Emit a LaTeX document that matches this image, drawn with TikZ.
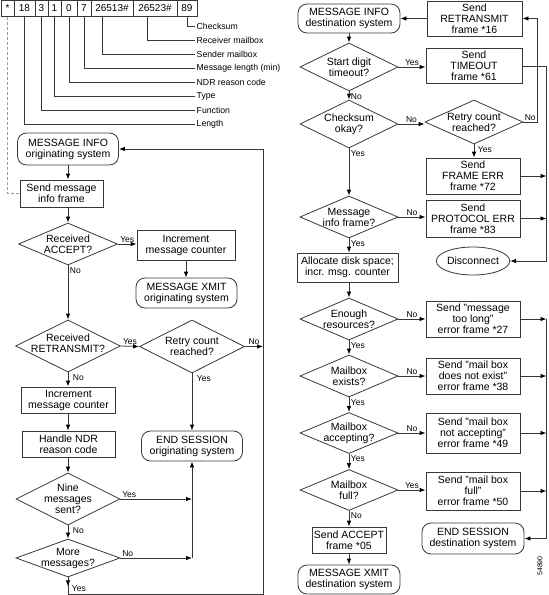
\documentclass[tikz,border=0pt]{standalone}
\usepackage{fontspec}
\setmainfont{Liberation Sans}
\usetikzlibrary{arrows.meta,shapes.geometric,calc}
\colorlet{ln}{black!78}
\newcommand{\mydia}[5]{%
  \node[dia,minimum width=#3,minimum height=#4] (#1) at #2 {};
  \node[dtxt] (#1t) at (#1) {#5};}
\begin{document}
\begin{tikzpicture}[x=1pt,y=-1pt,
  base/.style={font=\fontsize{10.5}{11}\selectfont, align=center, inner sep=0pt, text=black},
  box/.style={base, draw=ln, line width=0.8pt, rectangle},
  rbox/.style={box, rounded corners=9pt},
  dia/.style={draw=ln, line width=0.8pt, diamond, inner sep=0pt},
  dtxt/.style={base},
  cell/.style={draw=ln, line width=0.8pt, rectangle, inner sep=0pt, minimum height=16pt, font=\fontsize{10}{11}\selectfont},
  hl/.style={font=\fontsize{8.7}{10}\selectfont, inner sep=1.5pt, anchor=west},
  lbl/.style={font=\fontsize{8.5}{9}\selectfont, inner sep=1.5pt, text=black},
  conn/.style={draw=ln, line width=0.8pt},
  arr/.style={conn, -{Latex[length=6pt,width=4.5pt,black]}},
  grey dash/.style={draw=black!40, line width=0.8pt, dash pattern=on 3pt off 2pt}
]
\useasboundingbox (0,0) rectangle (549,595);

% header record
\node[cell, minimum width=13pt] (c0) at (7.5,8.5) {*};
\node[cell, minimum width=21pt] (c1) at (24.5,8.5) {18};
\node[cell, minimum width=13pt] (c2) at (41.5,8.5) {3};
\node[cell, minimum width=13pt] (c3) at (54.5,8.5) {1};
\node[cell, minimum width=16pt] (c4) at (69,8.5) {0};
\node[cell, minimum width=14pt] (c5) at (84,8.5) {7};
\node[cell, minimum width=42pt] (c6) at (112,8.5) {26513\#};
\node[cell, minimum width=44pt] (c7) at (155,8.5) {26523\#};
\node[cell, minimum width=20pt] (c8) at (187,8.5) {89};

\node[hl] (lChk) at (195,26) {Checksum};
\node[hl] (lRcv) at (195,40) {Receiver mailbox};
\node[hl] (lSnd) at (195,54) {Sender mailbox};
\node[hl] (lMsg) at (195,68) {Message length (min)};
\node[hl] (lNdr) at (195,82) {NDR reason code};
\node[hl] (lTyp) at (195,96) {Type};
\node[hl] (lFun) at (195,110) {Function};
\node[hl] (lLen) at (195,124) {Length};

\draw[conn] (c8.south) |- (lChk.west);
\draw[conn] ([xshift=15pt]c7.south west) |- (lRcv.west);
\draw[conn] ([xshift=12pt]c6.south west) |- (lSnd.west);
\draw[conn] (c5.south) |- (lMsg.west);
\draw[conn] (c4.south) |- (lNdr.west);
\draw[conn] (c3.south) |- (lTyp.west);
\draw[conn] (c2.south) |- (lFun.west);
\draw[conn] (c1.south) |- (lLen.west);

% left column: originating system
\node[rbox, minimum width=101pt, minimum height=32pt] (mi1) at (68,149) {MESSAGE INFO\\originating system};
\node[box, minimum width=83pt, minimum height=27pt] (send1) at (61.5,193.5) {Send message\\info frame};
\draw[grey dash] (c0.south) |- (send1.west);
\mydia{d1}{(68,244)}{99pt}{42pt}{Received\\ACCEPT?}
\node[box, minimum width=98pt, minimum height=30pt] (inc1) at (186,245) {Increment\\message counter};
\node[rbox, minimum width=101pt, minimum height=30pt] (xmit1) at (186.5,293) {MESSAGE XMIT\\originating system};
\node[dia, minimum width=105pt, minimum height=52pt] (d2) at (68,346) {};
\node[dtxt] (d2t) at ([yshift=3pt]d2.center) {Received\\RETRANSMIT?};
\mydia{d3}{(192,346.5)}{105pt}{53pt}{Retry count\\reached?}
\node[rbox, minimum width=101pt, minimum height=30pt] (end1) at (192,446) {END SESSION\\originating system};
\node[box, minimum width=94pt, minimum height=26pt] (inc2) at (68.5,400) {Increment\\message counter};
\node[box, minimum width=93pt, minimum height=26pt] (ndr) at (68.5,444) {Handle NDR\\reason code};
\mydia{d4}{(68,499)}{104pt}{52pt}{Nine\\messages\\sent?}
\mydia{d5}{(68,558)}{104pt}{38pt}{More\\messages?}

\coordinate (busL) at (263,594);
\coordinate (busE) at (192,558);

\draw[arr] (mi1.south) -- (mi1.south |- send1.north);
\draw[arr] (d1.north |- send1.south) -- (d1.north);
\draw[arr] (d1.east) -- node[lbl, above]{Yes} (d1.east -| inc1.west);
\draw[arr] (inc1.south) -- (inc1.south |- xmit1.north);
\draw[arr] (d1.south) -- node[lbl, pos=0, anchor=north west]{No} (d2.north);
\draw[arr] (d2.east) -- node[lbl, above]{Yes} (d3.west);
\draw[arr] (d3.east) -- node[lbl, above]{No} (d3.east -| busL);
\draw[arr] (d3.south) -- node[lbl, pos=0, anchor=north west, xshift=3pt]{Yes} (end1.north);
\draw[arr] (d2.south) -- node[lbl, pos=0, anchor=north west, xshift=3pt]{No} (d2.south |- inc2.north);
\draw[arr] (d2.south |- inc2.south) -- (d2.south |- ndr.north);
\draw[arr] (d4.north |- ndr.south) -- (d4.north);
\draw[arr] (d4.south) -- node[lbl, pos=0, anchor=north west, xshift=3pt]{No} (d5.north);
\draw[arr] (d4.east) -- node[lbl, pos=0, anchor=south west]{Yes} (d4.east -| busE);
\draw[arr] (d5.east) -- node[lbl, pos=0, anchor=south west]{No} (busE);
\draw[arr] (busE) -- (end1.south);
\draw[arr] (d5.south) -- (d5.south |- busL) -- (busL) |- (mi1.east);
\draw[arr] (d5.south) -- ([yshift=-9pt]d5.south) node[lbl, anchor=west, xshift=2pt, yshift=-2pt]{Yes};

% right column: destination system
\node[rbox, minimum width=102pt, minimum height=29pt] (mi2) at (349,18.5) {MESSAGE INFO\\destination system};
\node[box, minimum width=95pt, minimum height=35pt] (retx) at (474.5,18.5) {Send\\RETRANSMIT\\frame *16};
\mydia{d6}{(349,67)}{98pt}{48pt}{Start digit\\timeout?}
\node[box, minimum width=96pt, minimum height=35pt] (tout) at (474,66) {Send\\TIMEOUT\\frame *61};
\mydia{d7}{(349,124)}{98pt}{48pt}{Checksum\\okay?}
\mydia{d8}{(474,122)}{98pt}{44pt}{Retry count\\reached?}
\node[box, minimum width=94pt, minimum height=36pt] (ferr) at (473,176) {Send\\FRAME ERR\\frame *72};
\mydia{d9}{(349,217)}{98pt}{42pt}{Message\\info frame?}
\node[box, minimum width=94pt, minimum height=37pt] (perr) at (473,218.5) {Send\\PROTOCOL ERR\\frame *83};
\node[draw=ln, line width=0.8pt, ellipse, minimum width=68pt, minimum height=28pt, base] (disc) at (473,261) {Disconnect};
\node[box, minimum width=101pt, minimum height=29pt] (alloc) at (347.5,267.5) {Allocate disk space;\\incr. msg. counter};
\mydia{d10}{(349,319)}{98pt}{42pt}{Enough\\resources?}
\node[box, minimum width=94pt, minimum height=36pt] (e27) at (473,319) {Send "message\\too long"\\error frame *27};
\mydia{d11}{(349,376)}{98pt}{42pt}{Mailbox\\exists?}
\node[box, minimum width=94pt, minimum height=36pt] (e38) at (473,376) {Send "mail box\\does not exist"\\error frame *38};
\mydia{d12}{(349,433)}{98pt}{41pt}{Mailbox\\accepting?}
\node[box, minimum width=94pt, minimum height=40pt] (e49) at (473,433) {Send "mail box\\not accepting"\\error frame *49};
\mydia{d13}{(349,490)}{98pt}{41pt}{Mailbox\\full?}
\node[box, minimum width=94pt, minimum height=38pt] (e50) at (473,491) {Send "mail box\\full"\\error frame *50};
\node[rbox, minimum width=102pt, minimum height=31pt] (end2) at (473,538.5) {END SESSION\\destination system};
\node[box, minimum width=74pt, minimum height=26pt] (acc) at (349,540) {Send ACCEPT\\frame *05};
\node[rbox, minimum width=102pt, minimum height=29pt] (xmit2) at (349,579.5) {MESSAGE XMIT\\destination system};

\coordinate (busA) at (546.5,0);
\coordinate (busR) at (537,0);

\draw[arr] (retx.west) -- (retx.west -| mi2.east);
\draw[arr] (mi2.south) -- (d6.north);
\draw[arr] (d6.east) -- node[lbl, above]{Yes} (d6.east -| tout.west);
\draw[arr] (d6.south) -- node[lbl, pos=0, anchor=north west]{No} (d7.north);
\draw[arr] (d7.east) -- node[lbl, above]{No} (d7.east -| d8.west);
\draw[arr] (d8.east) -- node[lbl, above]{No} (d8.east -| busR) |- (retx.east);
\draw[arr] (d8.south) -- node[lbl, pos=0, anchor=north west, xshift=2pt]{Yes} (d8.south |- ferr.north);
\draw[arr] (d7.south) -- node[lbl, pos=0, anchor=north west]{Yes} (d9.north);
\draw[arr] (d9.east) -- node[lbl, above]{No} (d9.east -| perr.west);
\draw[arr] (tout.east) -| (busA |- disc.east) -- (disc.east);
\draw[arr] (ferr.east) -- (ferr.east -| busA);
\draw[arr] (perr.east) -- (perr.east -| busA);
\draw[arr] (d9.south) -- node[lbl, pos=0, anchor=north west]{Yes} (d9.south |- alloc.north);
\draw[arr] (d10.north |- alloc.south) -- (d10.north);
\draw[arr] (d10.east) -- node[lbl, above]{No} (d10.east -| e27.west);
\draw[arr] (d10.south) -- node[lbl, pos=0, anchor=north west]{Yes} (d11.north);
\draw[arr] (d11.east) -- node[lbl, above]{No} (d11.east -| e38.west);
\draw[arr] (d11.south) -- node[lbl, pos=0, anchor=north west]{Yes} (d12.north);
\draw[arr] (d12.east) -- node[lbl, above]{No} (d12.east -| e49.west);
\draw[arr] (d12.south) -- node[lbl, pos=0, anchor=north west]{Yes} (d13.north);
\draw[arr] (d13.east) -- node[lbl, above]{Yes} (d13.east -| e50.west);
\draw[arr] (d13.south) -- node[lbl, pos=0, anchor=north west]{No} (d13.south |- acc.north);
\draw[arr] (acc.south) -- (acc.south |- xmit2.north);
\draw[arr] (e27.east) -- (e27.east -| busA);
\draw[arr] (e38.east) -- (e38.east -| busA);
\draw[arr] (e49.east) -- (e49.east -| busA);
\draw[arr] (e50.east) -- (e50.east -| busA);
\draw[arr] (busA |- e27.east) |- (end2.east);

\node[font=\fontsize{7}{8}\selectfont, rotate=90, inner sep=0pt] (fig) at (540,566) {54890};
\end{tikzpicture}
\end{document}
